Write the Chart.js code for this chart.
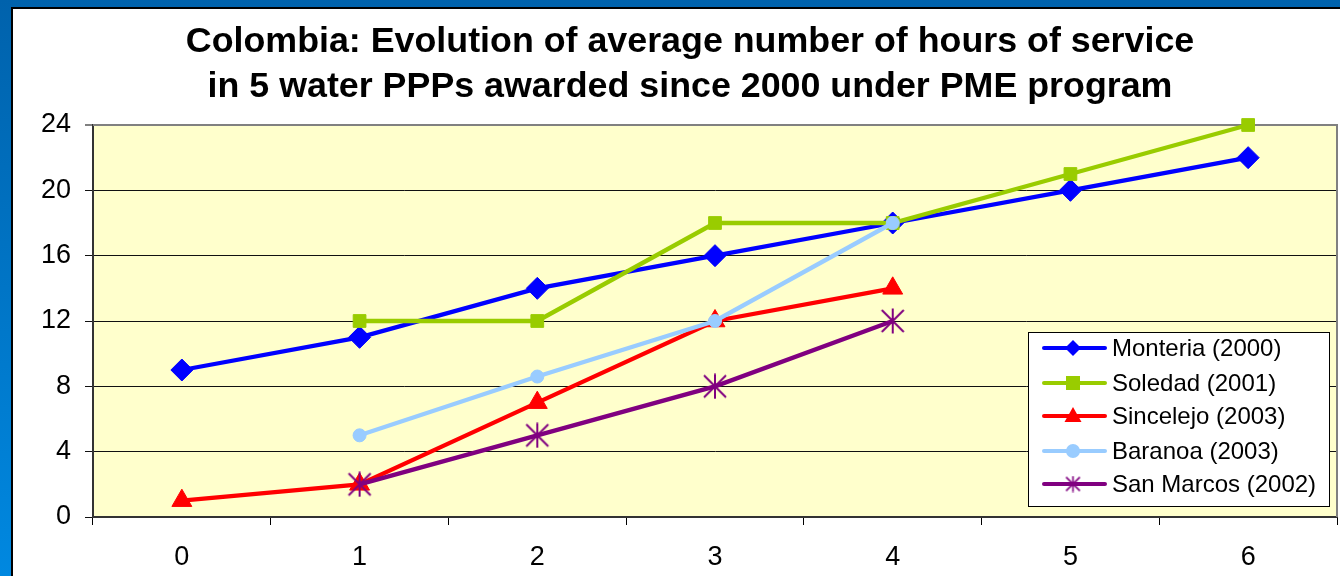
<!DOCTYPE html>
<html><head><meta charset="utf-8">
<script src="https://cdn.jsdelivr.net/npm/chart.js@4.4.0/dist/chart.umd.min.js"></script>
<style>
html,body{margin:0;padding:0;width:1340px;height:576px;overflow:hidden;background:linear-gradient(#0062ac,#0088e0);}
#frame{position:absolute;left:11px;top:7px;right:0;bottom:0;background:#fff;border-left:2px solid #000;border-top:2px solid #000;}
#c{position:absolute;left:0;top:0;}
</style></head><body>
<div id="frame"></div>
<canvas id="c" width="1340" height="576"></canvas>
<script>
const categories = ['0','1','2','3','4','5','6'];
const yTicks = [0,4,8,12,16,20,24];
const seriesNames = ['Monteria (2000)','Soledad (2001)','Sincelejo (2003)','Baranoa (2003)','San Marcos (2002)'];
const monteria  = [9, 11, 14, 16, 18, 20, 22];
const soledad   = [null, 12, 12, 18, 18, 21, 24];
const sincelejo = [1, 2, 7, 12, 14, null, null];
const baranoa   = [null, 5, 8.6, 12, 18, null, null];
const sanMarcos = [null, 2, 5, 8, 12, null, null];
const titleLines = ['Colombia: Evolution of average number of hours of service','in 5 water PPPs awarded since 2000 under PME program'];

const FONT = "'Liberation Sans', Arial, sans-serif";

function makeStar(size, color, lw){
  const cv = document.createElement('canvas');
  cv.width = size; cv.height = size;
  const g = cv.getContext('2d');
  g.strokeStyle = color; g.lineWidth = lw;
  const m = lw, s = size - lw;
  g.beginPath();
  g.moveTo(m, m); g.lineTo(s, s);
  g.moveTo(s, m); g.lineTo(m, s);
  g.moveTo(size/2, 0.5); g.lineTo(size/2, size-0.5);
  g.stroke();
  return cv;
}
const starBig = makeStar(26, '#800080', 2);
const starSmall = makeStar(17, '#800080', 1.6);

const colors = ['#0000FF','#99CC00','#FF0000','#99CCFF','#800080'];
const styles = ['rectRot','rect','triangle','circle',starBig];
const radii = [11, 9, 11.5, 6.5, 13];
const allData = [monteria, soledad, sincelejo, baranoa, sanMarcos];

const datasets = allData.map((d,i)=>({
  label: seriesNames[i],
  data: d,
  borderColor: colors[i],
  backgroundColor: colors[i],
  pointBackgroundColor: colors[i],
  pointBorderColor: colors[i],
  pointBorderWidth: 1,
  pointStyle: styles[i],
  pointRadius: radii[i],
  borderWidth: 4.3,
  tension: 0,
  fill: false,
  clip: false,
  order: 5 - i
}));

const bgPlugin = {
  id: 'bg',
  beforeDraw(chart){
    const {ctx, chartArea:a} = chart;
    ctx.save();
    ctx.fillStyle = '#FFFFCC';
    ctx.fillRect(a.left, a.top, a.right - a.left, a.bottom - a.top);
    ctx.restore();
    ctx.save();
    ctx.fillStyle = '#000';
    ctx.font = "bold 35.8px " + FONT;
    ctx.textAlign = 'center';
    ctx.textBaseline = 'alphabetic';
    ctx.fillText(titleLines[0], 690, 52);
    ctx.fillText(titleLines[1], 690, 97);
    ctx.restore();
  },
  beforeDatasetsDraw(chart){
    const {ctx, chartArea:a} = chart;
    ctx.save();
    ctx.strokeStyle = '#808080';
    ctx.lineWidth = 2;
    ctx.beginPath();
    ctx.moveTo(a.left, a.top);
    ctx.lineTo(a.right, a.top);
    ctx.lineTo(a.right, a.bottom);
    ctx.stroke();
    ctx.restore();
  },
  afterDraw(chart){
    const ctx = chart.ctx;
    const bx = 1028, by = 332, bw = 301, bh = 174;
    ctx.save();
    ctx.fillStyle = '#fff';
    ctx.fillRect(bx, by, bw, bh);
    ctx.strokeStyle = '#000';
    ctx.lineWidth = 1;
    ctx.strokeRect(bx + 0.5, by + 0.5, bw, bh);
    const rows = [348, 383, 416, 451, 484];
    ctx.font = "24px " + FONT;
    ctx.textBaseline = 'middle';
    ctx.textAlign = 'left';
    for (let i = 0; i < seriesNames.length; i++){
      const y = rows[i];
      ctx.strokeStyle = colors[i];
      ctx.lineWidth = 4;
      ctx.lineCap = 'round';
      ctx.beginPath();
      ctx.moveTo(1044, y); ctx.lineTo(1105, y);
      ctx.stroke();
      const mx = 1073;
      ctx.fillStyle = colors[i];
      ctx.beginPath();
      if (i === 0){ ctx.moveTo(mx-8,y); ctx.lineTo(mx,y-8); ctx.lineTo(mx+8,y); ctx.lineTo(mx,y+8); ctx.closePath(); ctx.fill(); }
      else if (i === 1){ ctx.fillRect(mx-7, y-7, 14, 14); }
      else if (i === 2){ ctx.moveTo(mx, y-9); ctx.lineTo(mx+8.5, y+6); ctx.lineTo(mx-8.5, y+6); ctx.closePath(); ctx.fill(); }
      else if (i === 3){ ctx.arc(mx, y, 7, 0, Math.PI*2); ctx.fill(); }
      else { ctx.drawImage(starSmall, mx - 8.5, y - 8.5); }
      ctx.fillStyle = '#000';
      ctx.fillText(seriesNames[i], 1112, y + 1);
    }
    ctx.restore();
  }
};

new Chart(document.getElementById('c'), {
  type: 'line',
  data: { labels: categories, datasets },
  options: {
    responsive: false,
    animation: false,
    events: [],
    layout: { autoPadding: false, padding: { top: 125, right: 3, left: 0, bottom: 0 } },
    plugins: { legend: { display: false }, title: { display: false }, tooltip: { enabled: false } },
    scales: {
      x: {
        type: 'category',
        offset: true,
        grid: { display: true, offset: true, drawOnChartArea: false, drawTicks: true, tickLength: 8, color: '#000', lineWidth: 1 },
        border: { display: true, color: '#333', width: 2 },
        ticks: { color: '#000', font: { family: FONT, size: 27 }, padding: 16, maxRotation: 0, autoSkip: false },
        afterFit(s){ s.height = 59; s.paddingLeft = 0; s.paddingRight = 0; }
      },
      y: {
        min: 0, max: 24,
        afterBuildTicks(s){ s.ticks = yTicks.map(v => ({ value: v })); },
        grid: {
          drawOnChartArea: true, drawTicks: true, tickLength: 8,
          color: (c) => c.tick && c.tick.value === 24 ? '#808080' : '#111',
          lineWidth: (c) => c.tick && c.tick.value === 24 ? 2 : 1
        },
        border: { display: true, color: '#333', width: 2 },
        ticks: { color: '#000', font: { family: FONT, size: 27 }, padding: 14 },
        afterFit(s){ s.width = 93; s.paddingTop = 0; s.paddingBottom = 0; }
      }
    }
  },
  plugins: [bgPlugin]
});
</script>
</body></html>
